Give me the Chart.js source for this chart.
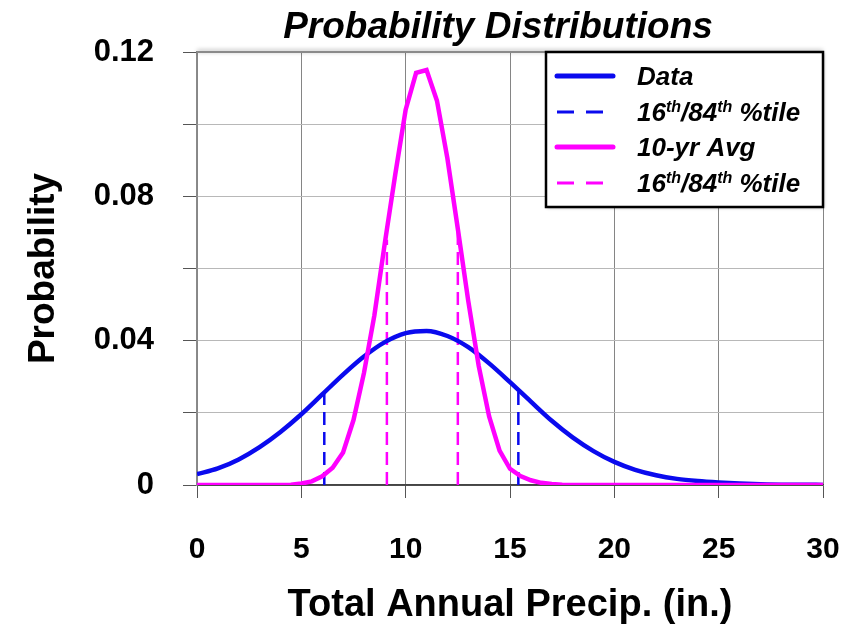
<!DOCTYPE html>
<html><head><meta charset="utf-8">
<script src="https://cdn.jsdelivr.net/npm/chart.js@4.4.1/dist/chart.umd.min.js"></script>
<style>html,body{margin:0;padding:0;background:#fff;} #wrap{width:850px;height:630px;}</style>
</head><body><div id="wrap"><canvas id="c" width="850" height="630"></canvas></div>
<script>
const chartTitle = 'Probability Distributions';
const xAxisTitle = 'Total Annual Precip. (in.)';
const yAxisTitle = 'Probability';
const yTickLabels = ['0', '0.04', '0.08', '0.12'];
const legendLabels = ['Data', '16th/84th %tile', '10-yr Avg', '16th/84th %tile'];

// "Data" distribution (blue), x = precip (in.)
const dataX = [0,1,2,3,4,5,6,7,8,9,10,11,12,13,14,15,16,17,18,19,20,21,22,23,24,25,26,27,28,29,30];
const dataY = [0.0030,0.0046,0.0071,0.0105,0.0147,0.0196,0.0251,0.0306,0.0356,0.0396,0.0421,0.0427,0.0413,0.0382,0.0337,0.0285,0.0231,0.0178,0.0132,0.0094,0.0064,0.0042,0.0027,0.0017,0.0011,0.0007,0.0004,0.0002,0.0001,0.0001,0.0000];

// "10-yr Avg" distribution (magenta)
const avgX = [0,0.5,1,1.5,2,2.5,3,3.5,4,4.5,5,5.5,6,6.5,7,7.5,8,8.5,9,9.5,10,10.5,11,11.5,12,12.5,13,13.5,14,14.5,15,15.5,16,16.5,17,17.5,18,18.5,19,19.5,20,20.5,21,21.5,22,22.5,23,23.5,24,24.5,25,25.5,26,26.5,27,27.5,28,28.5,29,29.5,30];
const avgY = [0,0,0,0,0,0,0,0,0,0.0001,0.0004,0.0010,0.0024,0.0048,0.0090,0.0180,0.0310,0.0470,0.0670,0.0860,0.1040,0.1142,0.1150,0.1065,0.0905,0.0710,0.0510,0.0330,0.0190,0.0095,0.0045,0.0025,0.0013,0.0006,0.0003,0.0001,0,0,0,0,0,0,0,0,0,0,0,0,0,0,0,0,0,0,0,0,0,0,0,0,0];

// 16th / 84th percentiles
const dataPctX = [6.1, 15.4];
const dataPctY = [0.026, 0.026];
const avgPctX = [9.1, 12.5];
const avgPctY = [0.068, 0.071];

const BLUE = '#0a0aee';
const MAG = '#ff00ff';
const FONT = '"Liberation Sans", Arial, sans-serif';

function pts(xs, ys) { return xs.map((x, i) => ({x: x, y: ys[i]})); }
function vlines(xs, tops) {
  const out = [];
  xs.forEach((x, i) => { if (i) out.push({x: x, y: null}); out.push({x: x, y: 0}); out.push({x: x, y: tops[i]}); });
  return out;
}

function drawRich(ctx, text, x, y, size) {
  const parts = text.split(/(?<=\d)(th)/);
  let cx = x;
  parts.forEach(p => {
    if (p === 'th') {
      ctx.font = 'italic bold ' + Math.round(size * 0.6) + 'px ' + FONT;
      ctx.fillText(p, cx, y - size * 0.36);
      cx += ctx.measureText(p).width;
    } else if (p) {
      ctx.font = 'italic bold ' + size + 'px ' + FONT;
      ctx.fillText(p, cx, y);
      cx += ctx.measureText(p).width;
    }
  });
}

const decor = {
  id: 'decor',
  afterDraw(chart) {
    const ctx = chart.ctx, a = chart.chartArea;
    ctx.save();
    ctx.shadowColor = 'rgba(0,0,0,0.35)';
    ctx.shadowBlur = 4;
    ctx.shadowOffsetY = -1;
    ctx.strokeStyle = '#8a8a8a';
    ctx.lineWidth = 2;
    ctx.beginPath(); ctx.moveTo(a.left, a.top); ctx.lineTo(a.right, a.top); ctx.stroke();
    ctx.restore();

    ctx.save();
    ctx.fillStyle = '#000';
    ctx.font = 'italic bold 37px ' + FONT;
    ctx.textAlign = 'center';
    ctx.textBaseline = 'alphabetic';
    ctx.fillText(chartTitle, 498, 38);
    ctx.restore();

    ctx.save();
    const L = 546, T = a.top, R = a.right, B = 207;
    ctx.shadowColor = 'rgba(0,0,0,0.35)';
    ctx.shadowBlur = 3;
    ctx.shadowOffsetX = 1; ctx.shadowOffsetY = 1;
    ctx.fillStyle = '#fff';
    ctx.fillRect(L, T, R - L, B - T);
    ctx.shadowColor = 'transparent';
    ctx.strokeStyle = '#000';
    ctx.lineWidth = 2.5;
    ctx.strokeRect(L, T, R - L, B - T);
    const rows = [76, 112, 147, 183];
    const styles = [
      {c: BLUE, w: 5, d: []}, {c: BLUE, w: 3, d: [17, 12]},
      {c: MAG, w: 5, d: []}, {c: MAG, w: 3, d: [17, 12]}
    ];
    rows.forEach((ry, i) => {
      const s = styles[i];
      ctx.strokeStyle = s.c; ctx.lineWidth = s.w; ctx.setLineDash(s.d);
      ctx.lineCap = s.d.length ? 'butt' : 'round';
      ctx.beginPath(); ctx.moveTo(557, ry); ctx.lineTo(613, ry); ctx.stroke();
      ctx.setLineDash([]);
      ctx.fillStyle = '#000';
      ctx.textBaseline = 'alphabetic';
      ctx.textAlign = 'left';
      drawRich(ctx, legendLabels[i], 637, ry + 9, 26);
    });
    ctx.restore();
  }
};

new Chart(document.getElementById('c'), {
  type: 'line',
  data: {
    datasets: [
      {label: legendLabels[2], data: pts(avgX, avgY), borderColor: MAG, borderWidth: 4.5, pointRadius: 0, tension: 0, order: 0},
      {label: legendLabels[0], data: pts(dataX, dataY), borderColor: BLUE, borderWidth: 4.5, pointRadius: 0, cubicInterpolationMode: 'monotone', order: 1},
      {label: legendLabels[3], data: vlines(avgPctX, avgPctY), borderColor: MAG, borderWidth: 2.5, borderDash: [13, 7], pointRadius: 0, spanGaps: false, order: 2},
      {label: legendLabels[1], data: vlines(dataPctX, dataPctY), borderColor: BLUE, borderWidth: 2.5, borderDash: [13, 7], pointRadius: 0, spanGaps: false, order: 3}
    ]
  },
  options: {
    responsive: false,
    animation: false,
    devicePixelRatio: 1,
    layout: {padding: {top: 52, right: 27, left: 0, bottom: 0}},
    plugins: {legend: {display: false}, title: {display: false}, tooltip: {enabled: false}},
    scales: {
      x: {
        type: 'linear', min: 0, max: 30,
        ticks: {stepSize: 5, color: '#000', font: {family: FONT, size: 30, weight: 'bold'}, padding: 34, maxRotation: 0},
        grid: {color: '#858585', lineWidth: 1, tickLength: 13, tickColor: '#555'},
        border: {color: '#444', width: 1.5},
        title: {display: true, text: xAxisTitle, color: '#000', font: {family: FONT, size: 38, weight: 'bold'}, padding: {top: 0, bottom: 2}},
        afterFit(s) { s.height = 145; s.paddingLeft = 0; s.paddingRight = 0; }
      },
      y: {
        min: 0, max: 0.12,
        ticks: {
          stepSize: 0.02, color: '#000', font: {family: FONT, size: 31, weight: 'bold'}, padding: 29,
          callback(v) { const k = Math.round(v / 0.04); return Math.abs(v - k * 0.04) < 1e-9 ? yTickLabels[k] : ''; }
        },
        grid: {color: (c) => (c.tick && c.tick.value === 0 ? '#555' : '#b8b8b8'), lineWidth: 1, tickLength: 14, tickColor: '#555'},
        border: {color: '#8a8a8a', width: 1.5},
        title: {display: true, text: yAxisTitle, color: '#000', font: {family: FONT, size: 37, weight: 'bold'}, padding: {top: 22, bottom: 0}},
        afterFit(s) { s.width = 197; s.paddingTop = 0; s.paddingBottom = 0; }
      }
    }
  },
  plugins: [decor]
});
</script>
</body></html>
